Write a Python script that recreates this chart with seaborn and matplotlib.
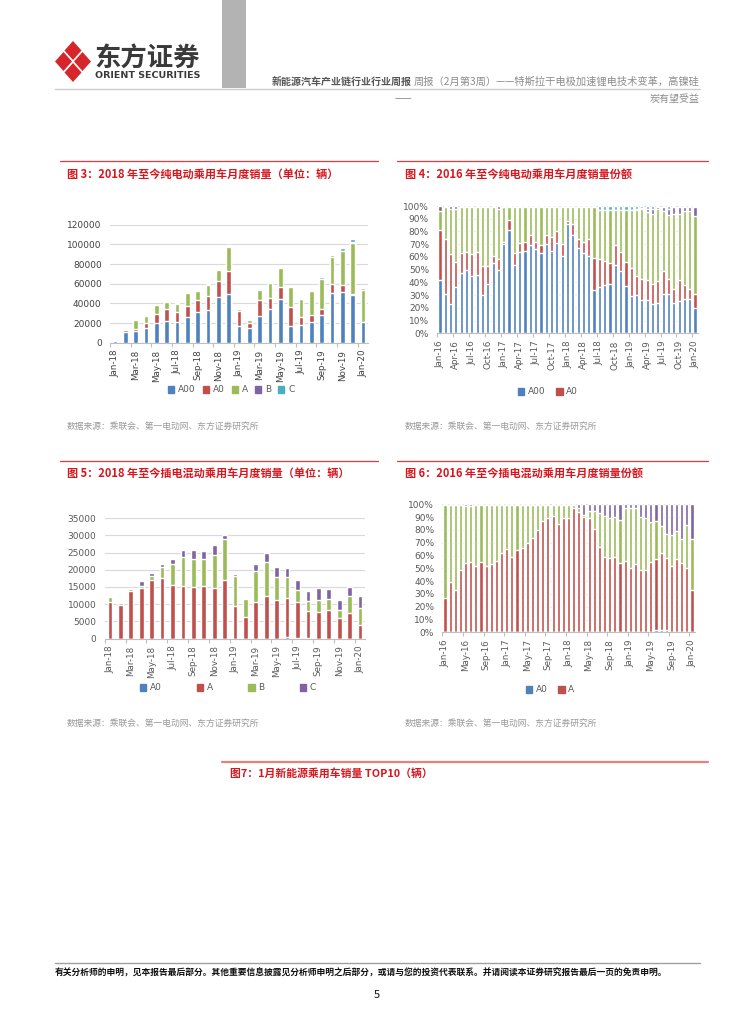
import numpy as np
import pandas as pd
import seaborn as sns
import matplotlib
matplotlib.use("Agg")
import matplotlib.pyplot as plt
from matplotlib.patches import Polygon, Patch

W, H = 754, 1024

# 月份类目
months_18 = pd.date_range("2018-01-01", "2020-01-01", freq="MS").strftime("%b-%y").tolist()
months_16 = pd.date_range("2016-01-01", "2020-01-01", freq="MS").strftime("%b-%y").tolist()

# 图3: 纯电动乘用车月度销量 (辆), 2018.01-2020.01
bev_a00 = [2000, 10500, 11500, 15300, 20000, 21700, 20700, 26400, 31500, 33500, 46800, 49800,
           17000, 14500, 27500, 34500, 44000, 17000, 17500, 21500, 28000, 50500, 51500, 48500, 21000]
bev_a0 = [500, 2000, 2700, 4700, 9500, 12200, 10100, 10600, 11500, 14000, 15600, 23400,
          15000, 5500, 15500, 11000, 12500, 19000, 8500, 6500, 6500, 9000, 7500, 1000, 500]
bev_a = [300, 800, 8800, 7500, 8800, 7800, 9000, 13200, 9600, 11300, 12000, 24300,
         2300, 3000, 10300, 14800, 19000, 20300, 18800, 24300, 30300, 27300, 33800, 51500, 32300]
bev_b = [100, 200, 200, 200, 500, 400, 300, 300, 300, 300, 1000, 800,
         300, 200, 300, 300, 500, 500, 200, 200, 300, 300, 300, 1000, 300]
bev_c = [0, 0, 0, 0, 0, 0, 900, 800, 600, 700, 800, 900,
         400, 300, 500, 400, 400, 400, 1000, 800, 1800, 1800, 3200, 3000, 2000]

# 图4: 纯电动乘用车月度销量份额 (%), 2016.01-2020.01
bevs_a00 = [42, 31, 23, 36, 47, 50, 45, 46, 30, 39, 55, 50, 70, 81, 54, 64, 65, 69, 66, 63, 70, 65, 71, 61,
            86, 77, 67, 63, 61, 34, 36, 38, 39, 54, 49, 37, 29, 30, 26, 26, 23, 24, 31, 31, 24, 25, 27, 27, 20]
bevs_a0 = [39, 43, 39, 20, 16, 14, 17, 18, 23, 14, 6, 8, 2, 8, 9, 7, 7, 8, 6, 6, 7, 11, 9, 9,
           2, 9, 7, 9, 13, 25, 22, 19, 16, 15, 15, 19, 22, 15, 17, 16, 16, 17, 18, 12, 11, 17, 11, 8, 11]
bevs_a = [15, 25, 36, 42, 36, 35, 37, 35, 46, 46, 38, 40, 27, 10, 36, 28, 27, 22, 27, 30, 22, 23, 19, 29,
          11, 13, 25, 27, 25, 40, 39, 40, 42, 28, 33, 41, 46, 52, 55, 53, 55, 57, 47, 50, 59, 52, 58, 61, 61]
bevs_b = [4, 1, 2, 2, 1, 1, 1, 1, 1, 1, 1, 2, 1, 1, 1, 1, 1, 1, 1, 1, 1, 1, 1, 1,
          1, 1, 1, 1, 1, 0.5, 0, 0, 0, 0, 0, 0, 0, 1, 0.5, 3, 4, 1, 3, 5, 5, 5, 3, 3, 7]
bevs_c = [0, 0, 0, 0, 0, 0, 0, 0, 0, 0, 0, 0, 0, 0, 0, 0, 0, 0, 0, 0, 0, 0, 0, 0,
          0, 0, 0, 0, 0, 0.5, 3, 3, 3, 3, 3, 3, 3, 2, 1.5, 2, 2, 1, 1, 2, 1, 1, 1, 1, 1]

# 图5: 插电混动乘用车月度销量 (辆), 2018.01-2020.01
phev_a0 = [0, 0, 0, 0, 0, 0, 0, 0, 0, 0, 0, 0, 0, 0, 0, 0, 0, 400, 200, 150, 0, 0, 0, 0, 0]
phev_a = [10700, 9900, 13700, 14800, 17000, 17600, 15600, 15400, 15000, 15200, 14700, 16900,
          9400, 6400, 10700, 12400, 11200, 11300, 10500, 7950, 7600, 8300, 6000, 7400, 4000]
phev_b = [1300, 300, 600, 500, 1200, 3100, 6100, 8300, 8100, 7900, 9500, 12200,
          8900, 5200, 9000, 9900, 6700, 6200, 3400, 2700, 3500, 3200, 2200, 4900, 5000]
phev_c = [0, 0, 400, 1300, 1000, 1100, 1500, 2200, 2700, 2500, 3100, 900,
          500, 300, 2100, 2700, 2800, 2600, 2900, 3000, 3600, 2900, 3000, 2600, 3300]

# 图6: 插电混动乘用车月度销量份额 (%), 2016.01-2020.01
phevs_a0 = [0] * 41 + [2, 2, 2, 0.5, 0.5, 0.5, 0.5, 0]
phevs_a = [27, 39, 33, 49, 54, 55, 52, 55, 52, 53, 56, 62, 65, 59, 64, 66, 70, 74, 80, 87, 89, 91, 85, 89,
           89, 97, 94, 90, 89, 81, 67, 59, 58, 59, 54, 56, 50, 53, 49, 49, 55, 55, 60, 56, 51.5, 56.5, 53.5, 49.5, 33]
phevs_b = [72.5, 60.5, 66.5, 50.5, 45, 43.5, 47.5, 44.5, 47.5, 46.5, 43.5, 37.5, 34.5, 40.5, 35.5, 33.5,
           29.5, 25.5, 19.5, 12.5, 10.5, 8.5, 14.5, 10.5, 10.5, 2.5, 3, 2, 6, 14, 26, 32, 31, 31, 34, 41,
           47, 44, 41, 40, 31, 30, 21, 19, 24, 22, 19, 34, 40]
phevs_c = [0.5, 0.5, 0.5, 0.5, 1, 1.5, 0.5, 0.5, 0.5, 0.5, 0.5, 0.5, 0.5, 0.5, 0.5, 0.5, 0.5, 0.5, 0.5,
           0.5, 0.5, 0.5, 0.5, 0.5, 0.5, 0.5, 3, 8, 5, 5, 7, 9, 11, 10, 12, 3, 3, 3, 10, 11, 14, 13, 17,
           23, 24, 21, 27, 16, 27]

BLUE, RED, GREEN, PURPLE, CYAN = "#4f81bd", "#c0504d", "#9bbb59", "#8064a2", "#4bacc6"
TITLE_RED = "#d7161e"

sns.set_theme(style="white")
plt.rcParams["font.family"] = ["Noto Sans CJK SC", "DejaVu Sans"]

fig = plt.figure(figsize=(W / 100, H / 100), dpi=100)

# 页面装饰层, 用像素坐标
bg = fig.add_axes([0, 0, 1, 1])
bg.set_xlim(0, W)
bg.set_ylim(H, 0)
bg.axis("off")

# logo
for cx, cy in [(73, 50.5), (73, 72.5), (63.5, 61.5), (82.5, 61.5)]:
    bg.add_patch(Polygon([(cx, cy - 9.5), (cx + 8.5, cy), (cx, cy + 9.5), (cx - 8.5, cy)],
                         closed=True, color="#d7262b", lw=0))
bg.text(94, 59, "东方证券", fontsize=19, fontweight="bold", color="#3a3a3a", va="center")
bg.text(95, 76, "ORIENT SECURITIES", fontsize=6.8, fontweight="bold", color="#3a3a3a",
        va="center", family=["DejaVu Sans"])
bg.add_patch(plt.Rectangle((222, 0), 24, 88, color="#b3b3b3", lw=0))
bg.plot([55, 700], [89, 89], color="#cccccc", lw=1)
bg.text(272, 82, "新能源汽车产业链行业行业周报", fontsize=7.2, fontweight="bold", color="#555555", va="center")
bg.text(700, 82, "周报（2月第3周）——特斯拉干电极加速锂电技术变革，高镍硅", fontsize=7.4,
        color="#8c8c8c", va="center", ha="right")
bg.text(403, 99, "——", fontsize=7.2, color="#8c8c8c", va="center", ha="center")
bg.text(700, 99, "炭有望受益", fontsize=7.2, color="#8c8c8c", va="center", ha="right")

# 各图标题和红线
for x0, x1, y in [(60, 378, 161), (397, 708, 161), (60, 378, 461), (397, 708, 461)]:
    bg.plot([x0, x1], [y, y], color="#e0393f", lw=0.9)
bg.text(67, 174, "图 3：2018 年至今纯电动乘用车月度销量（单位：辆）", fontsize=8, fontweight="bold",
        color=TITLE_RED, va="center")
bg.text(405, 174, "图 4：2016 年至今纯电动乘用车月度销量份额", fontsize=8, fontweight="bold",
        color=TITLE_RED, va="center")
bg.text(67, 473, "图 5：2018 年至今插电混动乘用车月度销量（单位：辆）", fontsize=8, fontweight="bold",
        color=TITLE_RED, va="center")
bg.text(405, 473, "图 6：2016 年至今插电混动乘用车月度销量份额", fontsize=8, fontweight="bold",
        color=TITLE_RED, va="center")
src = "数据来源：乘联会、第一电动网、东方证券研究所"
for x, y in [(67, 426), (405, 426), (67, 723), (405, 723)]:
    bg.text(x, y, src, fontsize=6.3, color="#9a9a9a", va="center")

bg.plot([222, 708], [762, 762], color="#e88080", lw=1.6)
bg.text(230, 773, "图7：1月新能源乘用车销量 TOP10（辆）", fontsize=7.8, fontweight="bold",
        color=TITLE_RED, va="center")

bg.plot([55, 700], [963, 963], color="#a0a0a0", lw=1)
bg.text(55, 973, "有关分析师的申明，见本报告最后部分。其他重要信息披露见分析师申明之后部分，或请与您的投资代表联系。"
        "并请阅读本证券研究报告最后一页的免责申明。", fontsize=6.3, fontweight="bold", color="#111111", va="center")
bg.text(377, 995, "5", fontsize=8, color="#111111", va="center", ha="center")


def make_ax(left, right, top, bottom):
    return fig.add_axes([left / W, 1 - bottom / H, (right - left) / W, (bottom - top) / H], facecolor="none")


def stacked(ax, cats, layers, colors, width):
    cum = np.zeros(len(cats))
    tops = []
    for v in layers:
        cum = cum + np.array(v, dtype=float)
        tops.append(cum.copy())
    # 从最高的累计值开始画, 低层覆盖在上面
    for top, c in reversed(list(zip(tops, colors))):
        sns.barplot(x=cats, y=top, order=cats, color=c, saturation=1, width=width,
                    errorbar=None, ax=ax)


def setup(ax, cats, step, yticks, ylabels, lab_color):
    n = len(cats)
    ax.set_xlim(-0.5, n - 0.5)
    ax.set_ylim(yticks[0], yticks[-1])
    ax.set_yticks(yticks)
    ax.set_yticklabels(ylabels, fontsize=6.5, color=lab_color, family=["DejaVu Sans"])
    ax.set_xticks(range(0, n, step))
    ax.set_xticklabels(cats[::step], rotation=90, fontsize=6.3, color=lab_color, family=["DejaVu Sans"])
    ax.set_xticks(np.arange(-0.5, n, step), minor=True)
    ax.tick_params(axis="x", which="major", length=0, pad=5)
    ax.tick_params(axis="x", which="minor", length=3, color="#bfbfbf", width=0.8, bottom=True)
    ax.tick_params(axis="y", length=0, pad=6)
    ax.yaxis.grid(True, color="#d9d9d9", lw=0.8)
    ax.set_axisbelow(True)
    for s in ["top", "left", "right"]:
        ax.spines[s].set_visible(False)
    ax.spines["bottom"].set_color("#bfbfbf")
    ax.spines["bottom"].set_linewidth(0.8)
    ax.set_xlabel("")
    ax.set_ylabel("")


def legend(labels, colors, cx, cy, cs):
    handles = [Patch(color=c, label=l) for l, c in zip(labels, colors)]
    fig.legend(handles=handles, loc="center", bbox_to_anchor=(cx / W, 1 - cy / H), ncol=len(labels),
               frameon=False, prop={"size": 6.5, "family": "DejaVu Sans"}, labelcolor="#595959",
               handlelength=0.7, handleheight=0.7, handletextpad=0.4, columnspacing=cs)


pct_ticks = list(range(0, 101, 10))
pct_labels = [f"{v}%" for v in pct_ticks]

# 图3
ax3 = make_ax(110, 368, 224.7, 342.7)
stacked(ax3, months_18, [bev_a00, bev_a0, bev_a, bev_b, bev_c], [BLUE, RED, GREEN, PURPLE, CYAN], 0.45)
yt = list(range(0, 120001, 20000))
setup(ax3, months_18, 2, yt, [str(v) for v in yt], "#404040")
legend(["A00", "A0", "A", "B", "C"], [BLUE, RED, GREEN, PURPLE, CYAN], 231, 390, 0.8)

# 图4
ax4 = make_ax(437.3, 697.7, 206, 333.3)
stacked(ax4, months_16, [bevs_a00, bevs_a0, bevs_a, bevs_b, bevs_c], [BLUE, RED, GREEN, PURPLE, CYAN], 0.6)
setup(ax4, months_16, 3, pct_ticks, pct_labels, "#595959")
legend(["A00", "A0"], [BLUE, RED], 548, 392, 1.2)

# 图5
ax5 = make_ax(104.8, 365.2, 518.3, 638.5)
stacked(ax5, months_18, [phev_a0, phev_a, phev_b, phev_c], [BLUE, RED, GREEN, PURPLE], 0.45)
yt = list(range(0, 35001, 5000))
setup(ax5, months_18, 2, yt, [str(v) for v in yt], "#595959")
legend(["A0", "A", "B", "C"], [BLUE, RED, GREEN, PURPLE], 228, 688, 3.9)

# 图6
ax6 = make_ax(442.4, 694.6, 504.3, 632.3)
stacked(ax6, months_16, [phevs_a0, phevs_a, phevs_b, phevs_c], [BLUE, RED, GREEN, PURPLE], 0.6)
setup(ax6, months_16, 4, pct_ticks, pct_labels, "#595959")
legend(["A0", "A"], [BLUE, RED], 550, 690, 1.2)

fig.savefig("out.png", dpi=100)
